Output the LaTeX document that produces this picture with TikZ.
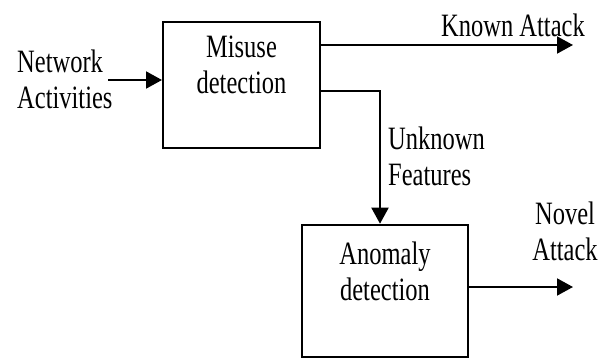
\documentclass[tikz,border=0pt]{standalone}
\usepackage{fontspec}
\setmainfont{Liberation Serif}
\usetikzlibrary{arrows.meta,positioning}
\tikzset{
box/.style={draw, line width=2pt, align=center, inner sep=2pt, text depth=30pt, yscale=1.33, transform shape, font=\fontsize{24.5}{27}\selectfont}, % the two detection blocks
lbl/.style={align=left, inner sep=0pt, yscale=1.33, transform shape, font=\fontsize{24.5}{27}\selectfont}, % free texts
flow/.style={line width=2pt, -{Triangle[length=16pt,width=17pt]}}, % arrows
}

\begin{document}
\begin{tikzpicture}[x=1pt,y=-1pt]
		\useasboundingbox (0,0) rectangle (612,358);
		\node[box, minimum width=157pt, minimum height=94.7pt] (misuse) at (241.5,85) {Misuse\\detection};
		\node[box, minimum width=166pt, minimum height=99.2pt] (anomaly) at (385,291) {Anomaly\\detection};
		\node[lbl, anchor=west] (net) at (17,79) {Network\\Activities};
		\node[lbl] (known) at (513,25) {Known Attack};
		\node[lbl, anchor=west] (unknown) at (388,156) {Unknown\\Features};
		\node[lbl, align=center] (novel) at (565,231) {Novel\\Attack};
		\coordinate (netstart) at (108,80);
		\coordinate (knownend) at (573,45);
		\coordinate (split) at (380,91);
		\coordinate (novelend) at (573,287);
		\draw[flow] (netstart) -- (misuse.west |- netstart);
		\draw[flow] (misuse.east |- knownend) -- (knownend);
		\draw[flow] (misuse.east |- split) -- (split) -- (anomaly.north -| split);
		\draw[flow] (anomaly.east |- novelend) -- (novelend);
\end{tikzpicture}
\end{document}
